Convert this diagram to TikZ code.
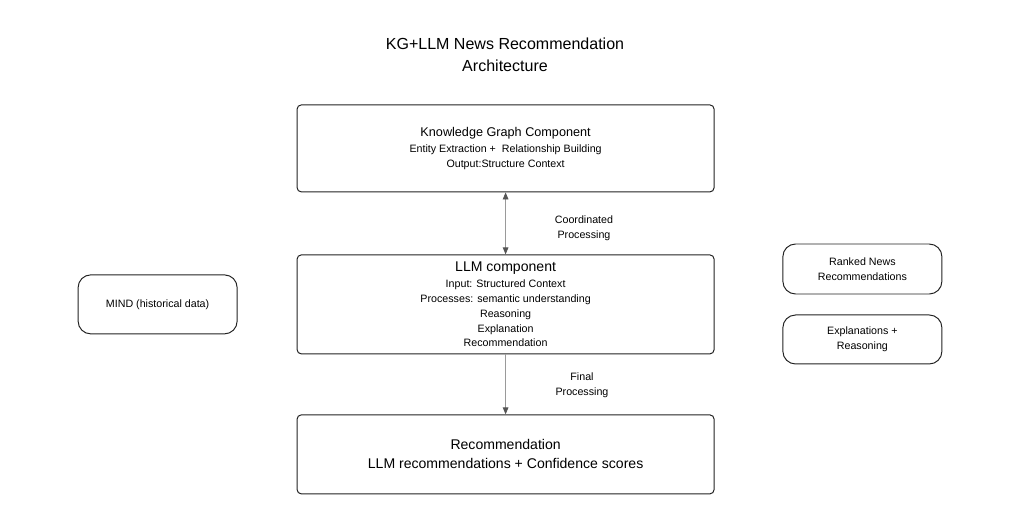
\documentclass[tikz,border=0pt]{standalone}
\usepackage{fontspec}
\setmainfont{Liberation Sans}
\usetikzlibrary{arrows.meta, positioning}
\usepackage{xcolor}
\definecolor{boxline}{HTML}{222222}
\definecolor{arrline}{HTML}{9A9A9A}
\definecolor{arrtip}{HTML}{555555}

\begin{document}
\begin{tikzpicture}[
    box/.style={rectangle, rounded corners=3pt, draw=boxline, line width=0.7pt,
                minimum width=10.425cm, text centered, align=center,
                font=\fontsize{7.6}{10.5}\selectfont},
    side/.style={rectangle, rounded corners=9pt, draw=boxline, line width=0.7pt,
                 minimum width=3.975cm, align=center,
                 font=\fontsize{7.6}{11}\selectfont},
    lbl/.style={align=center, font=\fontsize{7.6}{11}\selectfont},
    arr/.style={-{Triangle[length=5pt, width=4pt, color=arrtip]}, line width=0.6pt, color=arrline},
    biarr/.style={{Triangle[length=5pt, width=4pt, color=arrtip]}-{Triangle[length=5pt, width=4pt, color=arrtip]},
                  line width=0.6pt, color=arrline}
  ]
    \useasboundingbox (0,0) rectangle (25.65,-13.1);

    \node[align=center, font=\fontsize{11.4}{15.6}\selectfont] (title) at (12.625,-1.375)
        {KG+LLM News Recommendation\\Architecture};

    \node[box, minimum height=2.175cm] (kg) at (12.64,-3.71)
        {{\fontsize{9}{10.5}\selectfont Knowledge Graph Component}\\[1.5pt]
         Entity Extraction +\ \ Relationship Building\\Output:Structure Context};
    \node[box, minimum height=2.475cm, below=1.55cm of kg] (llm)
        {{\fontsize{10}{10.5}\selectfont LLM component}\\[1pt]
         Input: Structured Context\\Processes: semantic understanding\\
         Reasoning\\Explanation\\Recommendation};
    \node[box, minimum height=1.975cm, below=1.5cm of llm,
          font=\fontsize{10}{13.5}\selectfont] (rec)
        {Recommendation\\LLM recommendations + Confidence scores};

    \node[side, minimum height=1.475cm, left=1.475cm of llm] (mind) {MIND (historical data)};
    \node[side, minimum height=1.25cm] (ranked) at (21.56,-6.725) {Ranked News\\Recommendations};
    \node[side, minimum height=1.225cm, below=0.5cm of ranked] (expl) {Explanations +\\Reasoning};

    \draw[biarr] (kg) -- (llm);
    \draw[arr] (llm) -- (rec);

    \node[lbl] (coord) at (14.6,-5.7) {Coordinated\\Processing};
    \node[lbl] (final) at (14.55,-9.625) {Final\\Processing};
  \end{tikzpicture}
\end{document}
